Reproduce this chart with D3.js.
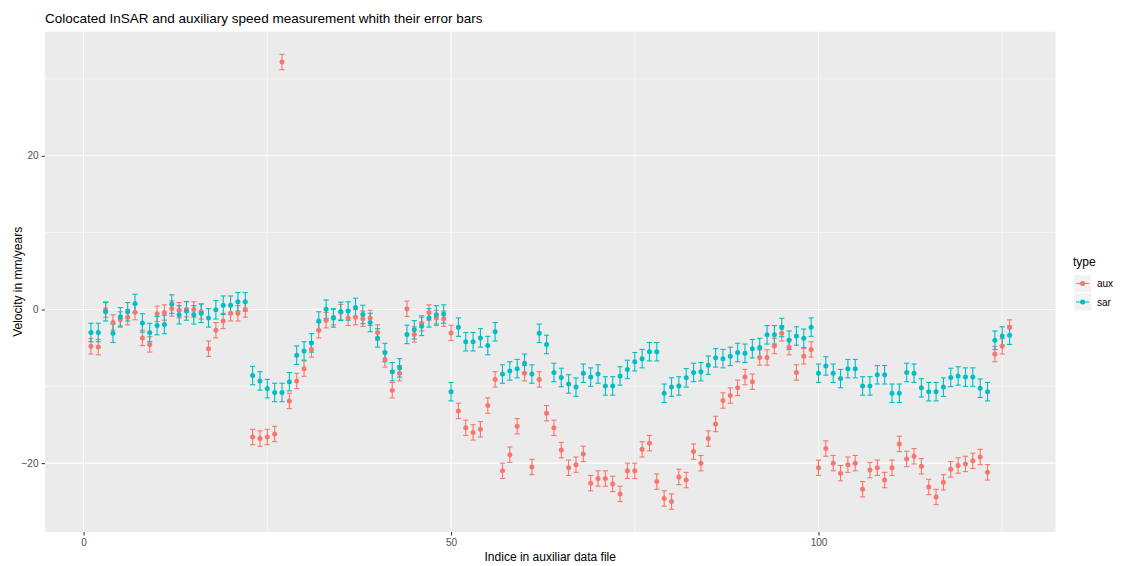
<!DOCTYPE html>
<html>
<head>
<meta charset="utf-8">
<script src="https://cdn.jsdelivr.net/npm/d3@7"></script>
<style>
  html, body { margin: 0; padding: 0; background: #ffffff; }
  svg { display: block; font-family: "Liberation Sans", Arial, sans-serif; }
</style>
</head>
<body>
<svg id="chart" width="1121" height="566"></svg>
<script>
// ---- data ----
const indices = d3.range(1, 127);
const auxValues = [
  -4.8, -4.9, 0.0, -1.7, -1.3, -1.0, -0.35, -3.7, -4.55, -0.57,
  -0.4, 0.13, -0.1, 0.04, 0.0, -0.25, -5.1, -2.7, -1.5, -0.5,
  -0.5, 0.0, -16.6, -16.8, -16.6, -16.2, 32.2, -11.9, -9.3, -7.7,
  -5.2, -2.7, -1.4, -1.0, -0.35, -1.1, -1.0, -1.2, -1.1, -3.0,
  -6.5, -10.5, -8.3, 0.1, -3.25, -1.8, -0.4, -1.1, -1.2, -3.05,
  -13.2, -15.4, -16.0, -15.6, -12.5, -9.1, -21.0, -18.9, -15.2, -8.3,
  -20.5, -9.1, -13.5, -15.4, -18.3, -20.6, -20.2, -18.8, -22.6, -22.0,
  -22.0, -22.7, -24.0, -21.0, -21.0, -18.2, -17.4, -22.4, -24.6, -25.0,
  -21.8, -22.2, -18.5, -20.0, -16.8, -14.9, -11.85, -11.2, -10.2, -8.8,
  -9.4, -6.25, -6.25, -4.75, -3.1, -4.9, -8.2, -6.1, -5.2, -20.6,
  -18.1, -20.0, -21.3, -20.2, -20.0, -23.4, -20.9, -20.6, -22.2, -20.6,
  -17.5, -19.45, -19.1, -20.4, -23.1, -24.4, -22.5, -20.8, -20.3, -20.1,
  -19.7, -19.2, -21.2, -5.8, -4.8, -2.35
];
const sarValues = [
  -3.0, -3.0, -0.3, -3.1, -0.96, -0.3, 0.78, -1.75, -3.0, -2.1,
  -1.95, 0.7, -0.7, -0.2, -0.7, -0.5, -1.1, -0.05, 0.56, 0.56,
  1.0, 1.0, -8.6, -9.3, -10.3, -10.8, -10.8, -9.4, -5.95, -5.4,
  -4.35, -1.5, 0.04, -1.1, -0.25, -0.2, 0.26, -0.65, -1.7, -3.7,
  -5.6, -8.1, -7.6, -3.25, -2.65, -2.2, -1.1, -0.7, -0.6, -10.7,
  -2.3, -4.2, -4.2, -3.7, -4.7, -2.9, -8.4, -8.0, -7.7, -7.0,
  -8.4, -3.1, -4.55, -8.2, -8.85, -9.7, -10.1, -8.3, -8.8, -8.4,
  -9.95, -9.95, -8.65, -7.8, -6.8, -6.4, -5.5, -5.5, -10.9, -10.1,
  -9.95, -8.9, -8.2, -8.1, -7.25, -6.3, -6.4, -6.1, -5.6, -5.7,
  -5.1, -4.95, -3.3, -3.3, -2.35, -4.0, -3.45, -3.75, -2.3, -8.3,
  -7.35, -8.3, -9.0, -7.7, -7.7, -9.95, -9.95, -8.5, -8.5, -10.9,
  -10.9, -8.2, -8.3, -10.2, -10.7, -10.7, -10.1, -8.85, -8.65, -8.8,
  -8.8, -10.25, -10.7, -4.0, -3.45, -3.35
];
const auxError = 1.0;
const sarError = 1.2;
const seriesNames = ["aux", "sar"];
const xTicks = [0, 50, 100];
const xMinor = [25, 75, 125];
const yTicks = [-20, 0, 20];
const yMinor = [-10, 10, 30];
const titleText = "Colocated InSAR and auxiliary speed measurement whith their error bars";
const xLabel = "Indice in auxiliar data file";
const yLabel = "Velocity in mm/years";

// ---- layout ----
const colors = { aux: "#F8766D", sar: "#00BFC4" };
const panel = { left: 45, right: 1055.5, top: 31.6, bottom: 532 };

const rows = [];
seriesNames.forEach(name => {
  const vals = name === "aux" ? auxValues : sarValues;
  const err = name === "aux" ? auxError : sarError;
  vals.forEach((v, k) => rows.push({ type: name, x: indices[k], y: v, lo: v - err, hi: v + err }));
});

const xMin = d3.min(rows, d => d.x), xMax = d3.max(rows, d => d.x);
const yMin = d3.min(rows, d => d.lo), yMax = d3.max(rows, d => d.hi);
const xPad = (xMax - xMin) * 0.05, yPad = (yMax - yMin) * 0.05;

const x = d3.scaleLinear().domain([xMin - xPad, xMax + xPad]).range([panel.left, panel.right]);
const y = d3.scaleLinear().domain([yMin - yPad, yMax + yPad]).range([panel.bottom, panel.top]);

const svg = d3.select("#chart");

// panel background
svg.append("rect")
  .attr("x", panel.left).attr("y", panel.top)
  .attr("width", panel.right - panel.left).attr("height", panel.bottom - panel.top)
  .attr("fill", "#EBEBEB");

const grid = svg.append("g");
grid.selectAll(".xminor").data(xMinor.filter(v => x(v) < panel.right)).join("line")
  .attr("x1", d => x(d)).attr("x2", d => x(d))
  .attr("y1", panel.top).attr("y2", panel.bottom)
  .attr("stroke", "#ffffff").attr("stroke-width", 0.55);
grid.selectAll(".yminor").data(yMinor).join("line")
  .attr("y1", d => y(d)).attr("y2", d => y(d))
  .attr("x1", panel.left).attr("x2", panel.right)
  .attr("stroke", "#ffffff").attr("stroke-width", 0.55);
grid.selectAll(".xmajor").data(xTicks).join("line")
  .attr("x1", d => x(d)).attr("x2", d => x(d))
  .attr("y1", panel.top).attr("y2", panel.bottom)
  .attr("stroke", "#ffffff").attr("stroke-width", 1.1);
grid.selectAll(".ymajor").data(yTicks).join("line")
  .attr("y1", d => y(d)).attr("y2", d => y(d))
  .attr("x1", panel.left).attr("x2", panel.right)
  .attr("stroke", "#ffffff").attr("stroke-width", 1.1);

// axes
const xAxis = d3.axisBottom(x).tickValues(xTicks).tickSize(3.5).tickPadding(3);
const yAxis = d3.axisLeft(y).tickValues(yTicks).tickSize(3.5).tickPadding(3);
const gx = svg.append("g").attr("transform", `translate(0,${panel.bottom})`).call(xAxis);
const gy = svg.append("g").attr("transform", `translate(${panel.left},0)`).call(yAxis);
[gx, gy].forEach(g => {
  g.select(".domain").remove();
  g.selectAll(".tick line").attr("stroke", "#333333").attr("stroke-width", 1);
  g.selectAll(".tick text").attr("fill", "#4D4D4D").style("font-size", "10px");
});

// error bars
const capHalf = 2.6;
const eb = svg.append("g");
rows.forEach(d => {
  const g = eb.append("g").attr("stroke", colors[d.type]).attr("stroke-width", 1.1).attr("fill", "none");
  g.append("line").attr("x1", x(d.x)).attr("x2", x(d.x)).attr("y1", y(d.lo)).attr("y2", y(d.hi));
  g.append("line").attr("x1", x(d.x) - capHalf).attr("x2", x(d.x) + capHalf).attr("y1", y(d.lo)).attr("y2", y(d.lo));
  g.append("line").attr("x1", x(d.x) - capHalf).attr("x2", x(d.x) + capHalf).attr("y1", y(d.hi)).attr("y2", y(d.hi));
});

// points
svg.append("g").selectAll("circle").data(rows).join("circle")
  .attr("cx", d => x(d.x)).attr("cy", d => y(d.y)).attr("r", 2.5)
  .attr("fill", d => colors[d.type]);

// title and axis titles
svg.append("text").attr("x", panel.left).attr("y", 23)
  .attr("fill", "#000").style("font-size", "13.5px").text(titleText);
svg.append("text").attr("x", (panel.left + panel.right) / 2).attr("y", 561)
  .attr("text-anchor", "middle").attr("fill", "#000").style("font-size", "12px").text(xLabel);
svg.append("text")
  .attr("transform", `translate(22,${(panel.top + panel.bottom) / 2}) rotate(-90)`)
  .attr("text-anchor", "middle").attr("fill", "#000").style("font-size", "12px").text(yLabel);

// legend
const lg = svg.append("g").attr("transform", "translate(1073,0)");
lg.append("text").attr("x", 0).attr("y", 266).attr("fill", "#000").style("font-size", "12px").text("type");
seriesNames.forEach((name, k) => {
  const cy = 283.5 + k * 18.5;
  lg.append("rect").attr("x", 1).attr("y", cy - 8.6).attr("width", 17.2).attr("height", 17.2).attr("fill", "#F2F2F2");
  lg.append("line").attr("x1", 3).attr("x2", 16).attr("y1", cy).attr("y2", cy)
    .attr("stroke", colors[name]).attr("stroke-width", 1.1);
  lg.append("circle").attr("cx", 9.6).attr("cy", cy).attr("r", 2.5).attr("fill", colors[name]);
  lg.append("text").attr("x", 24).attr("y", cy + 3.5).attr("fill", "#000").style("font-size", "10px").text(name);
});
</script>
</body>
</html>
